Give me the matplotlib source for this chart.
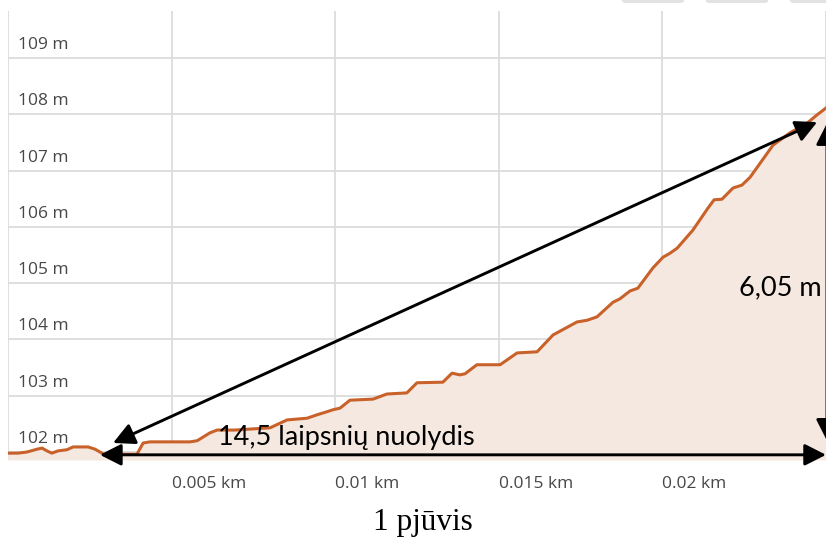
import matplotlib
matplotlib.use("Agg")
import matplotlib.pyplot as plt
import matplotlib.transforms as mtransforms
from matplotlib.patches import FancyBboxPatch

# atstumas (km) ir aukštis (m), nuskaityta nuo paveikslo
atstumas_km = [0, 0.00031, 0.00058, 0.00089, 0.00104, 0.00119, 0.00134, 0.00153, 0.00180,
               0.00199, 0.00245, 0.00266, 0.00281, 0.00293, 0.00312, 0.00394, 0.00413,
               0.00434, 0.00556, 0.00578, 0.00617, 0.00639, 0.00694, 0.00801, 0.00853,
               0.00914, 0.00944, 0.00972, 0.00993, 0.01015, 0.01045, 0.01116, 0.01158,
               0.01219, 0.01250, 0.01329, 0.01357, 0.01381, 0.01397, 0.01433, 0.01504,
               0.01556, 0.01617, 0.01666, 0.01739, 0.01770, 0.01800, 0.01849, 0.01870,
               0.01901, 0.01925, 0.01971, 0.02002, 0.02023, 0.02045, 0.02093, 0.02139,
               0.02158, 0.02182, 0.02216, 0.02243, 0.02268, 0.02338, 0.02390, 0.02442,
               0.02473, 0.02500]
aukstis_m = [101.98, 101.98, 102.00, 102.05, 102.07, 102.02, 101.98, 102.02, 102.04,
             102.09, 102.09, 102.05, 102.00, 101.96, 101.96, 101.96, 102.16,
             102.18, 102.18, 102.20, 102.34, 102.39, 102.39, 102.43, 102.57,
             102.60, 102.66, 102.71, 102.75, 102.78, 102.92, 102.94, 103.03,
             103.05, 103.23, 103.24, 103.40, 103.37, 103.39, 103.55, 103.55,
             103.76, 103.78, 104.08, 104.31, 104.34, 104.40, 104.66, 104.72,
             104.86, 104.91, 105.27, 105.46, 105.53, 105.62, 105.94, 106.33,
             106.48, 106.49, 106.69, 106.74, 106.88, 107.45, 107.67, 107.84,
             107.99, 108.11]

y_ticks = [102, 103, 104, 105, 106, 107, 108, 109]
x_grid = [0, 0.005, 0.01, 0.015, 0.02, 0.025]
x_labels = ["0.005 km", "0.01 km", "0.015 km", "0.02 km"]

# anotacijos
nuolydis_txt = "14,5 laipsnių nuolydis"
aukscio_txt = "6,05 m"
pjuvis_txt = "1 pjūvis"

W, H = 826, 541
fig = plt.figure(figsize=(W / 100, H / 100), dpi=100)
ax = fig.add_axes([8 / W, (H - 460) / H, 818 / W, 449 / H])

ymin, ymax = 101.858, 109.833
ax.set_xlim(0, 0.025)
ax.set_ylim(ymin, ymax)

# tinklelis
for xv in x_grid:
    ax.axvline(xv, color="#dcdcdc", lw=1.3, zorder=0)
for yv in y_ticks:
    ax.axhline(yv, color="#dcdcdc", lw=1.3, zorder=0)

ax.fill_between(atstumas_km, aukstis_m, ymin, color="#f5e8e0", lw=0, zorder=1)
ax.plot(atstumas_km, aukstis_m, color="#c8622a", lw=2.2, zorder=2,
        solid_joinstyle="round")

for s in ax.spines.values():
    s.set_visible(False)
ax.set_xticks([])
ax.set_yticks([])

lbl_font = dict(family="Open Sans", fontsize=12.5, color="#474747")
off_y = mtransforms.offset_copy(ax.get_yaxis_transform(), fig=fig, x=0, y=5, units="dots")
for yv in y_ticks:
    ax.text(10 / 818, yv, f"{yv} m", transform=off_y, ha="left", va="bottom", **lbl_font)

for xv, lab in zip(x_grid[1:-1], x_labels):
    ax.text(xv, -24 / 449, lab, transform=ax.get_xaxis_transform(), ha="left",
            va="center", clip_on=False, **lbl_font)

# rodyklės
arr = dict(arrowstyle="<|-|>,head_length=0.65,head_width=0.33", color="black", lw=2.1,
           mutation_scale=20, shrinkA=0, shrinkB=0)
ax.annotate("", xy=(0.00321, 102.16), xytext=(0.02473, 107.86), arrowprops=arr,
            annotation_clip=False, zorder=5)
ax.annotate("", xy=(0.00281, 101.95), xytext=(0.02500, 101.95), arrowprops=arr,
            annotation_clip=False, zorder=5)
ax.annotate("", xy=(0.02503, 102.20), xytext=(0.02503, 107.84), arrowprops=arr,
            annotation_clip=False, zorder=5)

ax.text(0.00642, 102.12, nuolydis_txt, family="Lato", fontsize=19.5, color="black",
        ha="left", va="baseline", zorder=6)
ax.text(0.02488, 104.91, aukscio_txt, family="Lato", fontsize=19.5, color="black",
        ha="right", va="center", zorder=6)

fig.text(423 / W, 11 / H, pjuvis_txt, family="Liberation Serif", fontsize=22.5,
         ha="center", va="baseline")

# viršuje matomi mygtukų kraštai
for x0, w in [(622, 62), (706, 62), (790, 40)]:
    fig.patches.append(FancyBboxPatch((x0 / W, (H - 3) / H), w / W, 6 / H,
                                      boxstyle="round,pad=0,rounding_size=0.004",
                                      transform=fig.transFigure, fc="#e2e2e2",
                                      ec="none"))

fig.savefig("out.png", dpi=100)
